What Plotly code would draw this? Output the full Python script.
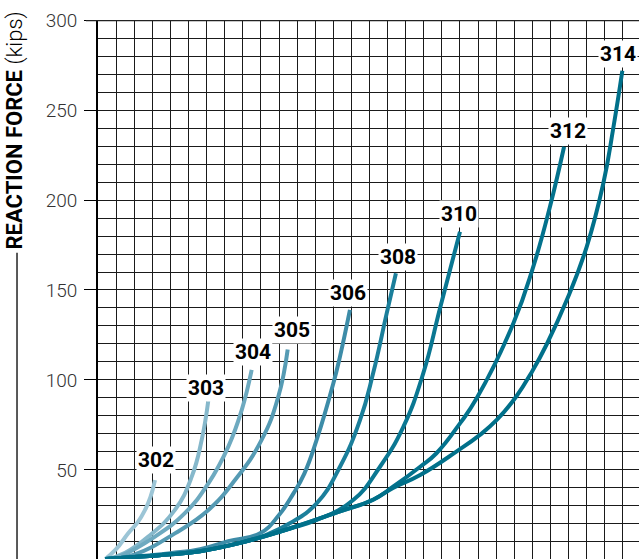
import plotly.graph_objects as go

# ---- data (deflection in grid units, reaction force in kips) ----
y_ticks = [50, 100, 150, 200, 250, 300]
series_names = ["302", "303", "304", "305", "306", "308", "310", "312", "314"]

x302 = [0.4, 1.0, 1.67, 2.2, 2.6, 2.9, 3.15]
y302 = [0.5, 6, 14.8, 21, 27.8, 35, 44.4]

x303 = [0.5, 1.5, 2.78, 4.25, 5.18, 5.73, 6.1]
y303 = [0.5, 4, 13, 27.8, 46.3, 66.7, 89]

x304 = [0.5, 1.3, 3.15, 4.8, 6.1, 7.2, 7.94, 8.49]
y304 = [0.5, 2.5, 13, 26, 42.6, 63, 83.3, 105.6]

x305 = [0.5, 2.0, 4.25, 6.1, 7.57, 9.04, 9.96, 10.48]
y305 = [0.5, 3, 14.8, 27.8, 44.4, 66.7, 90.7, 117]

x306 = [0.4, 2, 4, 5.64, 7.2, 8.95, 10.0, 10.8, 11.4, 12.08, 13.0, 13.37, 13.92]
y306 = [0.5, 1.8, 3.8, 6, 10.5, 14.8, 25, 37, 48, 66.7, 98, 113, 138.9]

x308 = [0.4, 2, 4, 5.64, 7.85, 9.3, 10.6, 12.08, 13.37, 14.48, 15.2, 15.95, 16.46]
y308 = [0.5, 1.6, 3.2, 4.9, 9.5, 14, 20.4, 31.5, 51.8, 77.8, 103.7, 137, 159.3]

x310 = [0.4, 2, 4, 5.64, 7.85, 10.6, 12.08, 14.1, 15.58, 16.87, 17.97, 18.9, 20.0]
y310 = [0.5, 1.6, 3.2, 4.9, 9.5, 17.5, 22.2, 33.3, 51.8, 74, 103.7, 140, 182.4]

x312 = [0.4, 2, 4, 5.64, 7.85, 10.6, 13.37, 15.2, 16.3, 17.8, 18.7, 20.0, 20.92, 22.95, 24.05, 24.97, 25.75]
y312 = [0.5, 1.6, 3.2, 4.9, 9.5, 17.5, 27, 33.5, 40.7, 51.8, 59.3, 75.9, 89.8, 131.5, 163, 196.3, 229.6]

x314 = [0.4, 2, 4, 5.64, 7.85, 10.6, 13.37, 15.2, 16.3, 17.8, 19.8, 21.1, 22.03, 23.1, 24.0, 24.8, 25.9, 27.0, 27.92, 28.47, 28.97]
y314 = [0.5, 1.6, 3.2, 4.9, 9.5, 17.5, 27, 33.5, 40, 47.2, 60.2, 69.5, 77.8, 90.7, 105, 120, 144.4, 174, 209.3, 240, 271.8]

label_x = [3.2, 5.97, 8.56, 10.72, 13.81, 16.57, 19.94, 25.97, 28.73]
label_y = [55.6, 95.6, 115.6, 127.8, 148.3, 168.3, 192.2, 238.3, 281.1]

colors = ["#9cc5d6", "#86b8cb", "#6eaac0", "#569bb4", "#3d8ca8",
          "#1b7f9b", "#0a7792", "#03728d", "#00708a"]

xs = [x302, x303, x304, x305, x306, x308, x310, x312, x314]
ys = [y302, y303, y304, y305, y306, y308, y310, y312, y314]

FONT = "Roboto, Liberation Sans, Arial, sans-serif"

fig = go.Figure()
for name, xv, yv, c in zip(series_names, xs, ys, colors):
    fig.add_trace(go.Scatter(
        x=xv, y=yv, mode="lines", name=name,
        line=dict(color=c, width=4, shape="spline", smoothing=1.3),
        hoverinfo="skip", showlegend=False))

for name, lx, ly in zip(series_names, label_x, label_y):
    fig.add_annotation(x=lx, y=ly, text="<b>" + name + "</b>", showarrow=False,
                       font=dict(family=FONT, size=21, color="#000"),
                       bgcolor="white", borderpad=1,
                       xanchor="center", yanchor="middle")

# axis title with vertical rule
fig.add_annotation(xref="paper", yref="paper", x=-0.1516, y=0.795,
                   text="<b>REACTION FORCE</b> <span style='font-weight:300'>(kips)</span>",
                   textangle=-90,
                   showarrow=False, xanchor="center", yanchor="middle",
                   font=dict(family=FONT, size=22, color="#000"))
fig.add_shape(type="line", xref="paper", yref="paper",
              x0=-0.1497, x1=-0.1497, y0=-0.01, y1=0.568,
              line=dict(color="#000", width=1.3))
# top border
fig.add_shape(type="line", xref="paper", yref="y",
              x0=-0.0222, x1=1.0, y0=300, y1=300,
              line=dict(color="#222", width=2.5))

fig.update_xaxes(range=[0, 29.89], tickmode="linear", tick0=0, dtick=1,
                 showgrid=True, gridcolor="#1a1a1a", gridwidth=1,
                 showticklabels=False, ticks="", zeroline=False,
                 showline=False, fixedrange=True, automargin=False)
fig.update_yaxes(range=[0.55, 300], tickmode="array", tickvals=y_ticks,
                 ticktext=[str(v) for v in y_ticks],
                 ticks="outside", ticklen=12, tickwidth=1.2, tickcolor="#000",
                 ticklabelstandoff=3,
                 tickfont=dict(family=FONT, size=19, color="#333", weight=300),
                 showgrid=True, gridcolor="#1a1a1a", gridwidth=1.2,
                 minor=dict(tickmode="linear", tick0=0, dtick=10, showgrid=True,
                            gridcolor="#1a1a1a", gridwidth=1, ticks=""),
                 zeroline=False, showline=True, linecolor="#000", linewidth=1.8,
                 fixedrange=True, automargin=False)

fig.update_layout(width=639, height=559,
                  margin=dict(l=98, r=0, t=20, b=0, autoexpand=False),
                  paper_bgcolor="white", plot_bgcolor="white")

# remove the browser's default 8px body margin so the figure fills the window
fig.write_html("out.html", config={"displayModeBar": False},
               post_script="document.body.style.margin='0';")
